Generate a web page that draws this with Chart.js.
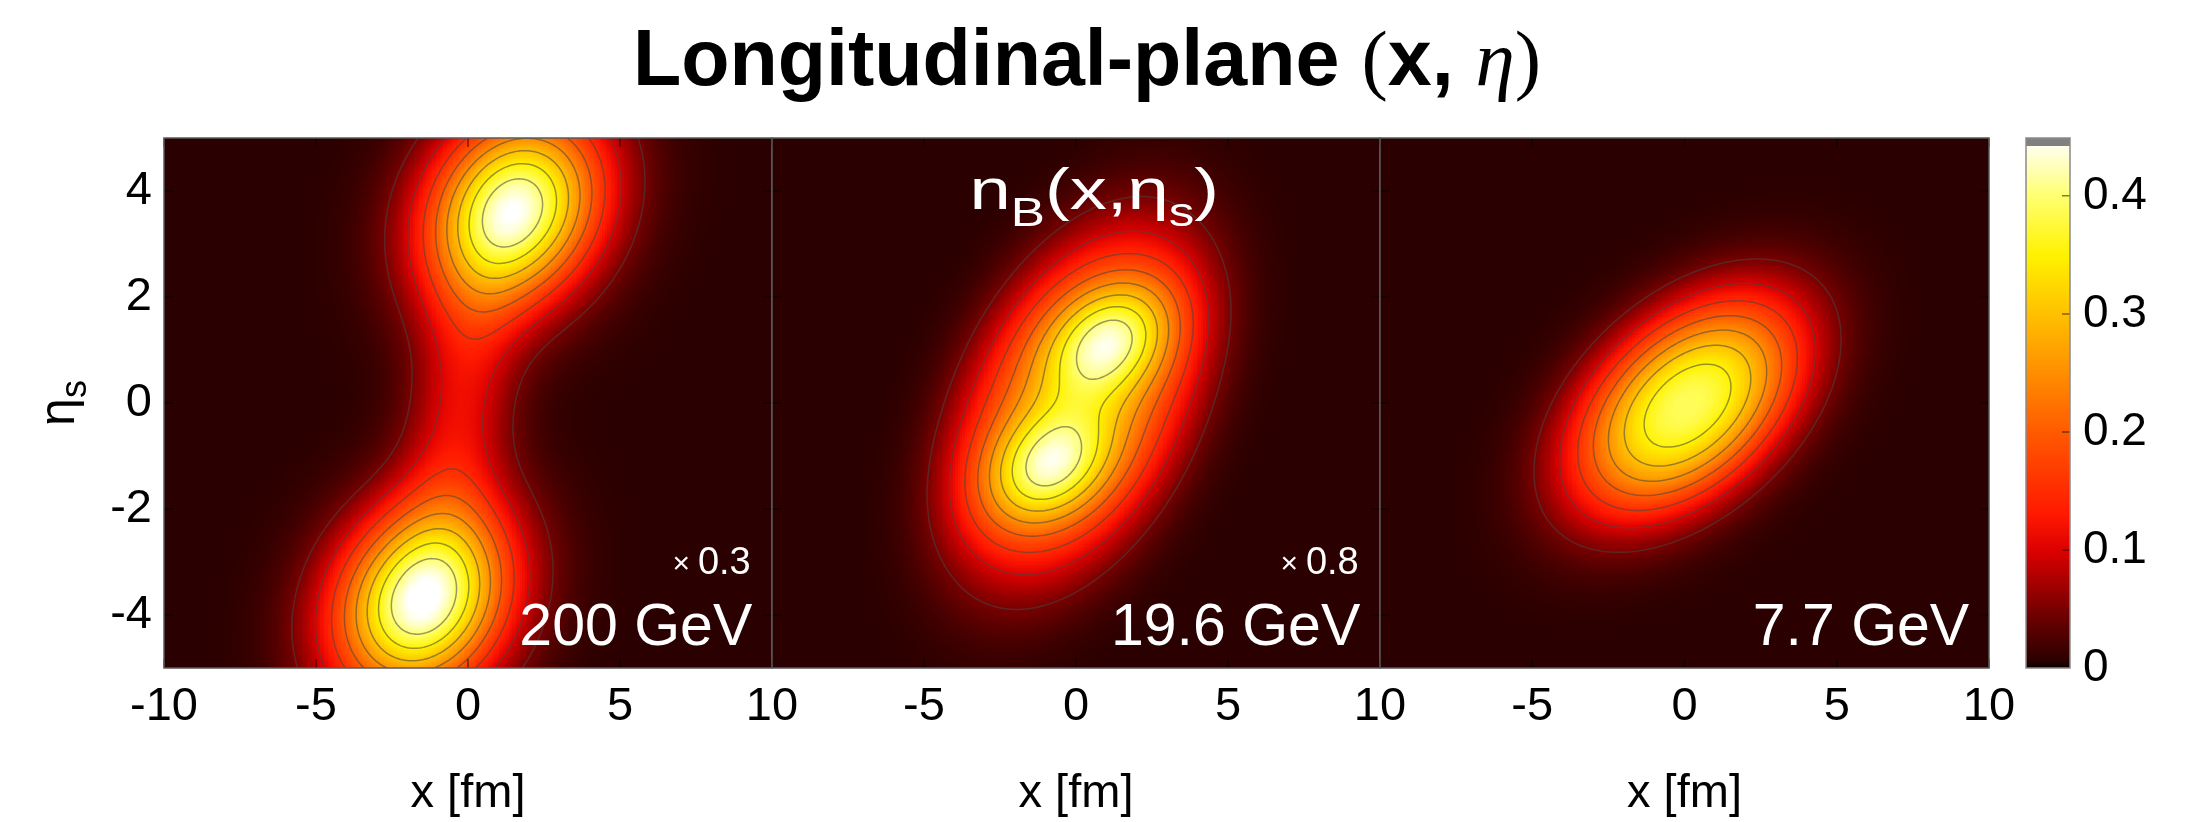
<!DOCTYPE html>
<html>
<head>
<meta charset="utf-8">
<script src="https://cdn.jsdelivr.net/npm/chart.js@4.4.1/dist/chart.umd.min.js"></script>
<style>
  html, body { margin: 0; padding: 0; background: #fff; }
  #page { position: relative; width: 2212px; height: 822px; overflow: hidden; background: #fff; }
  #page canvas { position: absolute; left: 0; top: 0; }
  #title {
    position: absolute; left: 0; width: 2174px; top: 12px;
    text-align: center; line-height: 79px; color: #000;
    font: bold 79px "Liberation Sans", Arial, Helvetica, sans-serif;
  }
  #title .paren { font-family: "Liberation Serif", "DejaVu Serif", serif; font-weight: normal; }
  #title .eta { font-family: "Liberation Serif", "DejaVu Serif", serif; font-style: italic; font-weight: normal; }
</style>
</head>
<body>
<div id="page">
  <div id="title">Longitudinal-plane <span class="paren">(</span>x, <span class="eta">η</span><span class="paren">)</span></div>
  <canvas id="panel200" width="2212" height="822"></canvas>
  <canvas id="panel19" width="2212" height="822"></canvas>
  <canvas id="panel7" width="2212" height="822"></canvas>
  <canvas id="colorbar" width="2212" height="822"></canvas>
</div>
<script>
// axes and ticks
const xTicks = [-10, -5, 0, 5, 10];
const etaTicks = [-4, -2, 0, 2, 4];
const colorTicks = [0, 0.1, 0.2, 0.3, 0.4];
const contourLevels = [0.05, 0.1, 0.15, 0.2, 0.25, 0.3, 0.35, 0.4];

// colour scale for n_B
const cmapStops  = [0, 0.006, 0.05, 0.1, 0.13, 0.2, 0.25, 0.3, 0.35, 0.4, 0.449];
const cmapColors = ['#000000', '#2a0000', '#780000', '#dc0000', '#ff1800', '#ff5a00',
                    '#ff8e00', '#ffc000', '#fff200', '#ffff70', '#ffffff'];
const colorbarMax = 0.449;
const colorbarCap = 0.443;   // grey over-range strip on top of the bar

// n_B level outside the fireball
const nBFloor = 0.006;

// 200 GeV: forward/backward baryon peaks and the thin bridge between them
const cx200  = [1.55, -1.5, -0.2];
const ce200  = [3.65, -3.72, 0.0];
const amp200 = [0.43, 0.44, 0.1];
const sx200  = [2.0, 2.0, 1.3];
const se200  = [1.25, 1.25, 2.0];
const rho200 = [0.2, 0.2, 0.35];
const pw200  = [1, 1, 1];

// 19.6 GeV: two peaks sitting on a flat-topped tilted envelope
const cx19  = [1.05, -0.85, 0.1];
const ce19  = [1.15, -1.15, 0.0];
const amp19 = [0.235, 0.235, 0.205];
const sx19  = [1.5, 1.5, 3.0];
const se19  = [0.8, 0.8, 2.4];
const rho19 = [0.3, 0.3, 0.42];
const pw19  = [1, 1, 1.6];

// 7.7 GeV: single tilted peak
const cx7  = [0.1];
const ce7  = [-0.05];
const amp7 = [0.384];
const sx7  = [2.57];
const se7  = [1.41];
const rho7 = [0.45];
const pw7  = [1.18];

const energyLabels = ['200 GeV', '19.6 GeV', '7.7 GeV'];
const scaleLabels = ['0.3', '0.8', ''];

const FONT = '"Liberation Sans", Arial, Helvetica, sans-serif';
const X_STEP = 0.08, ETA_STEP = 0.04;

function hexToRgb(h) {
  return [parseInt(h.slice(1, 3), 16), parseInt(h.slice(3, 5), 16), parseInt(h.slice(5, 7), 16)];
}
const cmapRgb = cmapColors.map(hexToRgb);

function colorFor(v) {
  if (v <= cmapStops[0]) return cmapColors[0];
  const last = cmapStops.length - 1;
  if (v >= cmapStops[last]) return cmapColors[last];
  let k = 0;
  while (v > cmapStops[k + 1]) k++;
  const t = (v - cmapStops[k]) / (cmapStops[k + 1] - cmapStops[k]);
  const a = cmapRgb[k], b = cmapRgb[k + 1];
  const c = a.map((ch, n) => Math.round(ch + t * (b[n] - ch)));
  return `rgb(${c[0]},${c[1]},${c[2]})`;
}

function components(cx, ce, amp, sx, se, rho, pw) {
  return cx.map((_, k) => ({ cx: cx[k], ce: ce[k], amp: amp[k], sx: sx[k], se: se[k], rho: rho[k], pw: pw[k] }));
}

// sum of tilted (super-)Gaussian lumps on top of the floor level
function density(x, eta, comps) {
  let v = nBFloor;
  for (const c of comps) {
    const u = (x - c.cx) / c.sx, w = (eta - c.ce) / c.se;
    const q = (u * u - 2 * c.rho * u * w + w * w) / (1 - c.rho * c.rho);
    v += c.amp * Math.exp(-Math.pow(0.5 * q, c.pw));
  }
  return v;
}

function sampleField(comps) {
  const xs = [], etas = [];
  for (let i = 0; i <= 250; i++) xs.push(-10 + i * X_STEP);
  for (let j = 0; j <= 250; j++) etas.push(-5 + j * ETA_STEP);
  const v = etas.map(e => xs.map(x => density(x, e, comps)));
  const colors = v.map(row => row.map(colorFor));
  return { xs, etas, v, colors };
}

// marching squares on the sampled grid, segments in data units
function contourSegments(field, level) {
  const { xs, etas, v } = field;
  const segs = [];
  for (let j = 0; j < etas.length - 1; j++) {
    for (let i = 0; i < xs.length - 1; i++) {
      const a = v[j][i], b = v[j][i + 1], c = v[j + 1][i + 1], d = v[j + 1][i];
      const pts = [];
      const edge = (p, q, x0, y0, x1, y1) => {
        if ((p < level) !== (q < level)) {
          const t = (level - p) / (q - p);
          pts.push([x0 + t * (x1 - x0), y0 + t * (y1 - y0)]);
        }
      };
      edge(a, b, xs[i], etas[j], xs[i + 1], etas[j]);
      edge(b, c, xs[i + 1], etas[j], xs[i + 1], etas[j + 1]);
      edge(c, d, xs[i + 1], etas[j + 1], xs[i], etas[j + 1]);
      edge(d, a, xs[i], etas[j + 1], xs[i], etas[j]);
      if (pts.length === 2) segs.push(pts);
      else if (pts.length === 4) { segs.push([pts[0], pts[1]]); segs.push([pts[2], pts[3]]); }
    }
  }
  return segs;
}

function densityPlugin(field, idx) {
  const contours = contourLevels.map(l => contourSegments(field, l));
  return {
    id: 'density',
    beforeDatasetsDraw(chart) {
      const { ctx, chartArea: a, scales: { x, y } } = chart;
      ctx.save();
      ctx.beginPath();
      ctx.rect(a.left, a.top, a.right - a.left, a.bottom - a.top);
      ctx.clip();
      const { xs, etas, colors } = field;
      const xEdges = xs.map(v => x.getPixelForValue(v - X_STEP / 2));
      const xLast = x.getPixelForValue(xs[xs.length - 1] + X_STEP / 2);
      for (let j = 0; j < etas.length; j++) {
        const yTop = Math.floor(y.getPixelForValue(etas[j] + ETA_STEP / 2));
        const yBot = Math.ceil(y.getPixelForValue(etas[j] - ETA_STEP / 2));
        for (let i = 0; i < xs.length; i++) {
          const x0 = Math.floor(xEdges[i]);
          const x1 = Math.ceil(i + 1 < xs.length ? xEdges[i + 1] : xLast);
          ctx.fillStyle = colors[j][i];
          ctx.fillRect(x0, yTop, x1 - x0, yBot - yTop);
        }
      }
      // iso-density lines
      ctx.lineWidth = 1.5;
      ctx.lineCap = 'round';
      ctx.strokeStyle = 'rgba(70,70,70,0.55)';
      for (const segs of contours) {
        ctx.beginPath();
        for (const [p, q] of segs) {
          ctx.moveTo(x.getPixelForValue(p[0]), y.getPixelForValue(p[1]));
          ctx.lineTo(x.getPixelForValue(q[0]), y.getPixelForValue(q[1]));
        }
        ctx.stroke();
      }
      ctx.restore();
    },
    afterDraw(chart) {
      const { ctx, chartArea: a, scales: { x, y } } = chart;
      ctx.save();
      // inward tick marks
      ctx.strokeStyle = 'rgba(0,0,0,0.55)';
      ctx.lineWidth = 1.5;
      ctx.beginPath();
      for (const t of xTicks) {
        const px = x.getPixelForValue(t);
        ctx.moveTo(px, a.bottom); ctx.lineTo(px, a.bottom - 9);
        ctx.moveTo(px, a.top); ctx.lineTo(px, a.top + 9);
      }
      for (const t of etaTicks) {
        const py = y.getPixelForValue(t);
        ctx.moveTo(a.left, py); ctx.lineTo(a.left + 9, py);
        ctx.moveTo(a.right, py); ctx.lineTo(a.right - 9, py);
      }
      ctx.stroke();
      // frame
      ctx.strokeStyle = '#5a5a5a';
      ctx.lineWidth = 1.5;
      ctx.strokeRect(a.left, a.top, a.right - a.left, a.bottom - a.top);

      // beam energy and scale factor
      ctx.fillStyle = '#ffffff';
      ctx.textAlign = 'right';
      ctx.textBaseline = 'alphabetic';
      ctx.font = `59px ${FONT}`;
      ctx.fillText(energyLabels[idx], x.getPixelForValue(9.35), y.getPixelForValue(-4.57));
      if (scaleLabels[idx]) {
        const right = x.getPixelForValue(9.3), base = y.getPixelForValue(-3.22);
        ctx.font = `38px ${FONT}`;
        const w = ctx.measureText(scaleLabels[idx]).width;
        ctx.fillText(scaleLabels[idx], right, base);
        ctx.font = `30px ${FONT}`;
        ctx.fillText('×', right - w - 8, base - 1);
      }

      if (idx === 1) drawNBLabel(ctx, x.getPixelForValue(0.6), y.getPixelForValue(3.66));
      if (idx === 0) drawEtaTitle(ctx, 60, (a.top + a.bottom) / 2);
      ctx.restore();
    }
  };
}

// n_B(x, eta_s) written inside the middle panel
function drawNBLabel(ctx, cxPix, base) {
  const big = `58px ${FONT}`, small = `40px ${FONT}`;
  const parts = [
    ['n', big, 0], ['B', small, 17], ['(x,', big, 0], ['η', big, 0], ['s', small, 17], [')', big, 0]
  ];
  const stretch = 1.28;
  let w = 0;
  for (const [t, f] of parts) { ctx.font = f; w += ctx.measureText(t).width; }
  ctx.save();
  ctx.translate(cxPix - w * stretch / 2, base);
  ctx.scale(stretch, 1);
  ctx.textAlign = 'left';
  ctx.fillStyle = '#ffffff';
  let px = 0;
  for (const [t, f, dy] of parts) {
    ctx.font = f;
    ctx.fillText(t, px, dy);
    px += ctx.measureText(t).width;
  }
  ctx.restore();
}

// rotated eta_s axis title
function drawEtaTitle(ctx, cx, cy) {
  ctx.save();
  ctx.translate(cx, cy);
  ctx.rotate(-Math.PI / 2);
  ctx.fillStyle = '#000';
  ctx.textAlign = 'left';
  ctx.font = `50px ${FONT}`;
  const w1 = ctx.measureText('η').width;
  ctx.font = `36px ${FONT}`;
  const w2 = ctx.measureText('s').width;
  const start = -(w1 + w2) / 2;
  ctx.font = `50px ${FONT}`;
  ctx.fillText('η', start, 14);
  ctx.font = `36px ${FONT}`;
  ctx.fillText('s', start + w1, 26);
  ctx.restore();
}

function panelChart(id, idx, comps, box) {
  const field = sampleField(comps);
  return new Chart(document.getElementById(id), {
    type: 'scatter',
    data: { datasets: [] },
    options: {
      responsive: false,
      animation: false,
      events: [],
      layout: { padding: { left: box.padLeft, right: box.padRight, top: 138, bottom: 0 } },
      plugins: { legend: { display: false }, tooltip: { enabled: false } },
      scales: {
        x: {
          type: 'linear', min: -10, max: 10,
          afterBuildTicks: s => { s.ticks = xTicks.map(v => ({ value: v })); },
          afterFit: s => { s.height = 154; },
          grid: { display: false, drawTicks: false },
          border: { display: false },
          ticks: {
            color: '#000', padding: 11, maxRotation: 0, autoSkip: false,
            font: { family: FONT, size: 47 },
            callback: v => (idx > 0 && v === -10) ? '' : String(v)
          },
          title: {
            display: true, text: 'x [fm]', color: '#000',
            font: { family: FONT, size: 47 }, padding: { top: 14, bottom: 0 }
          }
        },
        y: {
          type: 'linear', min: -5, max: 5, display: idx === 0,
          afterBuildTicks: s => { s.ticks = etaTicks.map(v => ({ value: v })); },
          afterFit: s => { s.width = idx === 0 ? 164 : 0; },
          grid: { display: false, drawTicks: false },
          border: { display: false },
          ticks: { color: '#000', padding: 12, font: { family: FONT, size: 47 } }
        }
      }
    },
    plugins: [densityPlugin(field, idx)]
  });
}

panelChart('panel200', 0, components(cx200, ce200, amp200, sx200, se200, rho200, pw200), { padLeft: 0, padRight: 2212 - 772 });
panelChart('panel19', 1, components(cx19, ce19, amp19, sx19, se19, rho19, pw19), { padLeft: 772, padRight: 2212 - 1380 });
panelChart('panel7', 2, components(cx7, ce7, amp7, sx7, se7, rho7, pw7), { padLeft: 1380, padRight: 2212 - 1989 });

// colour bar
const colorbarPlugin = {
  id: 'colorbarFill',
  beforeDatasetsDraw(chart) {
    const { ctx, chartArea: a, scales: { y } } = chart;
    const step = 0.0015;
    ctx.save();
    for (let v = 0; v < colorbarMax; v += step) {
      const y0 = Math.floor(y.getPixelForValue(Math.min(v + step, colorbarMax)));
      const y1 = Math.ceil(y.getPixelForValue(v));
      ctx.fillStyle = v + step / 2 > colorbarCap ? '#808080' : (v < 0.0015 ? '#000000' : colorFor(v + step / 2));
      ctx.fillRect(a.left, y0, a.right - a.left, y1 - y0);
    }
    ctx.strokeStyle = 'rgba(0,0,0,0.5)';
    ctx.lineWidth = 1.5;
    ctx.beginPath();
    for (const t of colorTicks.slice(1)) {
      const py = y.getPixelForValue(t);
      ctx.moveTo(a.right, py); ctx.lineTo(a.right - 8, py);
    }
    ctx.stroke();
    ctx.strokeStyle = '#8a8a8a';
    ctx.strokeRect(a.left, a.top, a.right - a.left, a.bottom - a.top);
    ctx.restore();
  }
};

new Chart(document.getElementById('colorbar'), {
  type: 'scatter',
  data: { datasets: [] },
  options: {
    responsive: false,
    animation: false,
    events: [],
    layout: { padding: { left: 2026, right: 0, top: 138, bottom: 154 } },
    plugins: { legend: { display: false }, tooltip: { enabled: false } },
    scales: {
      x: { type: 'linear', min: 0, max: 1, display: false },
      y: {
        type: 'linear', position: 'right', min: 0, max: colorbarMax,
        afterBuildTicks: s => { s.ticks = colorTicks.map(v => ({ value: v })); },
        afterFit: s => { s.width = 142; },
        grid: { display: false, drawTicks: false },
        border: { display: false },
        ticks: {
          color: '#000', padding: 13, font: { family: FONT, size: 46 },
          callback: v => v === 0 ? '0' : v.toFixed(1)
        }
      }
    }
  },
  plugins: [colorbarPlugin]
});
</script>
</body>
</html>
